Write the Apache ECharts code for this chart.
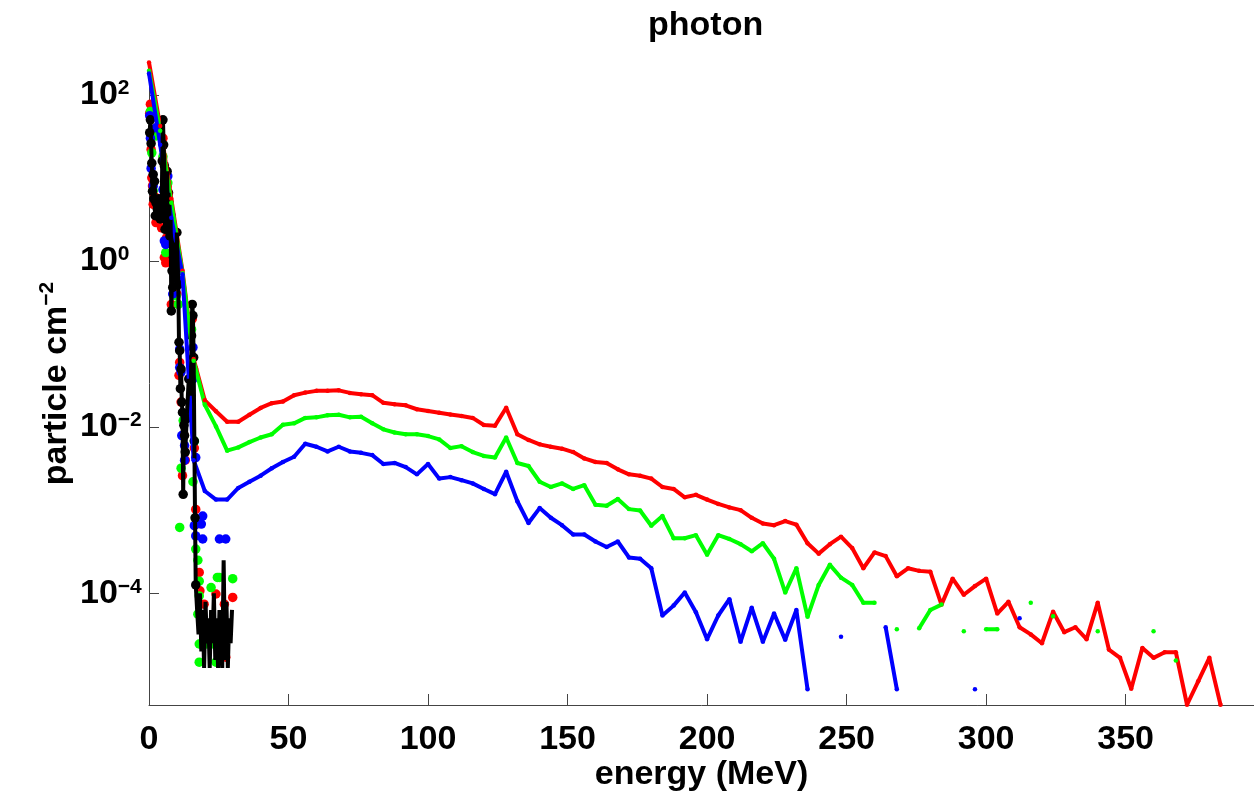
<!DOCTYPE html>
<html><head><meta charset="utf-8">
<script src="https://cdn.jsdelivr.net/npm/echarts@6/dist/echarts.min.js"></script>
<style>html,body{margin:0;padding:0;background:#fff}#c{width:1254px;height:797px}</style>
</head><body><div id="c"></div>
<script>
// ---- coarse spectra (4 MeV bins) ----
const energyBins = [0,4,8,12,16,20,24,28,32,36,40,44,48,52,56,60,64,68,72,76,80,84,88,92,96,100,104,108,112,116,120,124,128,132,136,140,144,148,152,156,160,164,168,172,176,180,184,188,192,196,200,204,208,212,216,220,224,228,232,236,240,244,248,252,256,260,264,268,272,276,280,284,288,292,296,300,304,308,312,316,320,324,328,332,336,340,344,348,352,356,360,364,368,372,376,380,384];

const redFlux = [245,42,5.6,0.76,0.066,0.021,0.0155,0.0116,0.0116,0.0141,0.017,0.0194,0.0203,0.0242,0.026,0.0273,0.0273,0.0277,0.0258,0.0248,0.0242,0.0196,0.0188,0.0183,0.0164,0.0156,0.0149,0.0142,0.0136,0.0129,0.0106,0.0104,0.0171,0.0082,0.0070,0.0062,0.0058,0.0055,0.0050,0.0042,0.0038,0.0037,0.0031,0.0027,0.0026,0.0024,0.0019,0.0018,0.00143,0.00153,0.00134,0.00119,0.00108,0.00100,0.00081,0.00069,0.00066,0.00074,0.00067,0.00040,0.00030,0.00039,0.00048,0.00035,0.00020,0.00031,0.00028,0.00016,0.00020,0.000186,0.000182,7.3e-5,1.5e-4,9.6e-5,1.22e-4,1.5e-4,5.7e-5,7.9e-5,3.9e-5,3.2e-5,2.5e-5,6.0e-5,3.4e-5,3.9e-5,2.8e-5,7.7e-5,2.1e-5,1.67e-5,7.1e-6,2.2e-5,1.67e-5,1.95e-5,1.95e-5,4.55e-6,8.7e-6,1.67e-5,4.55e-6];

const greenFlux = [195,37,5.0,0.71,0.063,0.0186,0.0102,0.0052,0.0057,0.0066,0.0075,0.0082,0.0107,0.0111,0.0129,0.0131,0.0139,0.0141,0.0131,0.0133,0.0111,0.0094,0.0086,0.0082,0.0082,0.0078,0.0071,0.0056,0.0059,0.0050,0.0045,0.0043,0.0075,0.0037,0.0034,0.0022,0.0019,0.0021,0.0018,0.0020,0.00116,0.00113,0.00136,0.00103,0.00099,0.00065,0.00085,0.00046,0.00046,0.00050,0.00029,0.00050,0.00045,0.00039,0.00032,0.00040,0.00026,0.000102,0.00020,5.2e-5,1.26e-4,2.2e-4,1.54e-4,1.26e-4,7.7e-5,7.7e-5,null,3.7e-5,null,3.8e-5,6.3e-5,7.3e-5,null,3.5e-5,null,3.7e-5,3.7e-5,null,null,7.7e-5,null,5.3e-5,null,null,null,3.5e-5,null,null,null,null,3.5e-5,null,1.55e-5,null,null,null,null];

const blueFlux = [180,25,3.3,0.69,0.0040,0.0017,0.00134,0.00134,0.00185,0.0022,0.0026,0.0032,0.0038,0.0044,0.0063,0.0058,0.0051,0.0058,0.0051,0.0049,0.0046,0.0036,0.0037,0.0033,0.0027,0.0036,0.0024,0.0025,0.0023,0.0021,0.0018,0.00156,0.0029,0.00128,0.0007,0.00106,0.00081,0.00066,0.00051,0.00051,0.00042,0.00036,0.00042,0.00027,0.00026,0.00020,5.4e-5,7.1e-5,1.02e-4,5.9e-5,2.8e-5,5.4e-5,8.5e-5,2.6e-5,6.7e-5,2.6e-5,5.7e-5,2.75e-5,6.3e-5,7.0e-6,null,null,3.0e-5,null,null,null,3.9e-5,7.0e-6,null,null,null,null,null,null,7.0e-6,null,null,null,5.0e-5,null,null,null,null,null,null,null,null,null,null,null,null,null,null,null,null,null,null];

// ---- fine low-energy spectra: [energy (MeV), flux] ----
const blackFine = [[0.25,35],[0.5,50],[0.75,26],[1.0,15],[1.25,6.9],[1.5,11],[1.75,5.6],[2.0,9.1],[2.25,3.5],[2.5,5.0],[3.0,4.2],[3.5,5.6],[4.0,3.2],[4.5,3.6],[4.75,16],[5.0,50],[5.25,25],[5.5,14],[5.75,2.4],[6.0,7.9],[6.25,4.0],[6.5,12],[6.75,2.8],[7.0,6.6],[7.25,5.0],[7.5,2.0],[7.75,3.3],[8.0,0.25],[8.25,0.76],[8.5,0.48],[8.75,1.1],[9.0,1.66],[9.25,0.63],[9.5,1.38],[9.75,0.8],[10.0,2.2],[10.25,1.0],[10.5,0.52],[10.75,0.105],[11.0,0.083],[11.25,0.029],[11.5,0.05],[11.75,0.02],[12.0,0.015],[12.25,0.00155],[12.5,0.0105],[12.75,0.0079],[13.0,0.005],[13.5,0.0126],[14.25,0.038],[15.0,0.024],[15.25,0.126],[15.5,0.30],[15.75,0.22],[16.0,0.069],[16.25,0.0068],[16.5,0.00081],[16.75,1.26e-4],[17.25,6.2e-5],[17.75,3.2e-5],[18.25,1.0e-4],[18.75,2.0e-5],[19.25,6.3e-5],[19.75,1.26e-5],[20.25,7.9e-5],[20.75,2.5e-5],[21.25,5.0e-5],[21.75,1.26e-5],[22.25,6.3e-5],[22.75,2.5e-5],[23.25,1.0e-4],[23.75,1.58e-5],[24.25,5.0e-5],[24.75,1.26e-5],[25.25,6.3e-5],[25.75,3.2e-5],[26.25,1.26e-5],[26.75,2.5e-4],[27.25,1.58e-5],[27.75,7.9e-5],[28.25,1.26e-5],[28.75,5.0e-5],[29.25,2.5e-5],[29.75,6.3e-5]];

const redFine = [[0.25,60],[0.5,77],[0.75,22],[1.0,10],[1.25,8],[1.5,4.8],[2.0,6],[2.5,2.9],[3.0,3.5],[4.5,2.5],[5.0,30],[5.5,1.1],[6.0,0.95],[6.25,1.9],[6.5,8],[7.0,4.5],[8.0,0.3],[9.0,1.2],[10.0,0.4],[10.75,0.042],[11.0,0.06],[11.5,0.02],[12.0,0.0026],[12.5,0.008],[13.0,0.004],[15.5,0.2],[16.0,0.05],[16.25,0.0056],[16.75,0.00102],[17.0,0.00068],[18.0,1.78e-4],[18.25,1.07e-4],[19.75,7.4e-5],[20.5,3.5e-5],[21.0,3.5e-5],[21.5,3.5e-5],[22.0,3.5e-5],[22.5,3.5e-5],[23.0,3.5e-5],[24.0,9.8e-5],[25.0,3.5e-5],[27.0,7.4e-5],[26.75,1.78e-5],[27.5,1.7e-5],[30.0,8.9e-5]];

const greenFine = [[0.5,63],[1.0,20],[1.5,7],[2.5,32],[3.5,4.5],[5.0,18],[5.75,5],[6.75,8.7],[6.0,1.26],[7.5,2.6],[8.5,2.3],[9.75,0.38],[10.5,0.3],[11.0,6.2e-4],[11.5,0.0032],[12.25,0.012],[15.25,0.15],[15.75,0.0022],[16.25,0.0068],[16.75,3.4e-4],[17.5,2.5e-4],[18.0,1.4e-4],[18.0,9.3e-5],[19.25,5.1e-5],[18.0,2.45e-5],[18.5,2.45e-5],[19.5,2.45e-5],[20.5,2.45e-5],[21.5,2.45e-5],[22.5,2.45e-5],[23.5,2.45e-5],[24.5,2.45e-5],[25.5,2.45e-5],[18.0,1.48e-5],[24.0,1.48e-5],[22.25,1.17e-4],[24.5,1.55e-4],[25.25,1.55e-4],[30.0,1.5e-4],[27.0,4.0e-5],[17.5,5.6e-5]];

const blueFine = [[0.25,56],[0.5,30],[2.5,40],[0.75,13],[1.5,8],[3.0,5],[6.75,10.5],[5.0,7.2],[8.0,3.5],[5.5,1.74],[6.0,1.58],[7.25,3],[9.75,0.76],[8.5,0.40],[10.25,0.6],[11.0,0.087],[11.0,0.052],[11.5,0.046],[15.75,0.091],[15.75,0.038],[15.0,0.0145],[11.75,0.0079],[12.75,0.006],[12.75,0.004],[16.75,0.0043],[16.25,6.5e-4],[16.75,4.9e-4],[18.75,6.8e-4],[19.25,8.5e-4],[19.25,4.5e-4],[25.25,4.5e-4],[27.5,4.5e-4]];

const xTicks = [0,50,100,150,200,250,300,350];
const yTicks = [1e-4,1e-2,1,100];

const pairs = (xs, ys) => xs.map((x, i) => [x, ys[i]]);
const FONT = '"Liberation Sans", Arial, Helvetica, sans-serif';

const coarse = (data, color) => ({
  type: 'line', data: data, connectNulls: false, clip: true,
  symbol: 'circle', symbolSize: 4.5, showSymbol: true,
  itemStyle: { color: color, opacity: 1 }, lineStyle: { color: color, width: 4 },
  emphasis: { disabled: true }, silent: true
});
const dots = (data, color) => ({
  type: 'scatter', data: data, symbol: 'circle', symbolSize: 9.5, clip: true,
  itemStyle: { color: color, opacity: 1 }, emphasis: { disabled: true }, silent: true
});

const chart = echarts.init(document.getElementById('c'), null, { renderer: 'canvas' });
chart.setOption({
  animation: false,
  backgroundColor: '#ffffff',
  textStyle: { fontFamily: FONT },
  title: {
    text: 'photon', left: 643, top: 4,
    textStyle: { fontFamily: FONT, fontSize: 34, fontWeight: 'bold', color: '#000' }
  },
  grid: { left: 149, right: -4, top: 62, bottom: 89, containLabel: false },
  xAxis: {
    type: 'value', min: 0, max: 396,
    name: 'energy (MeV)', nameLocation: 'middle', nameGap: 53, nameMoveOverlap: false,
    nameTextStyle: { fontFamily: FONT, fontSize: 34, fontWeight: 'bold', color: '#000' },
    axisLine: { show: true, onZero: false, lineStyle: { color: '#444', width: 1 } },
    axisTick: { show: true, inside: true, length: 11, customValues: xTicks, lineStyle: { color: '#444' } },
    axisLabel: { customValues: xTicks, margin: 18, fontFamily: FONT, fontSize: 34, fontWeight: 'bold', color: '#000' },
    splitLine: { show: false }
  },
  yAxis: {
    type: 'log', logBase: 10, min: 4.52e-6, max: 248,
    name: '{a|particle cm}{s|\u22122}', nameLocation: 'middle', nameGap: 72, nameRotate: 90,
    nameMoveOverlap: false,
    nameTextStyle: {
      color: '#000',
      rich: {
        a: { fontFamily: FONT, fontSize: 34, fontWeight: 'bold', color: '#000', lineHeight: 40 },
        s: { fontFamily: FONT, fontSize: 21, fontWeight: 'bold', color: '#000', verticalAlign: 'top', lineHeight: 8 }
      }
    },
    axisLine: { show: true, onZero: false, lineStyle: { color: '#444', width: 1 } },
    axisTick: { show: true, inside: true, length: 10, customValues: yTicks, lineStyle: { color: '#444' } },
    minorTick: { show: false },
    splitLine: { show: false },
    axisLabel: {
      customValues: yTicks, margin: 69, align: 'left',
      formatter: function (v) {
        const e = Math.round(Math.log10(v));
        return '{b|10}{s|' + (e < 0 ? '\u2212' + (-e) : String(e)) + '}';
      },
      rich: {
        b: { fontFamily: FONT, fontSize: 34, fontWeight: 'bold', color: '#000', lineHeight: 34 },
        s: { fontFamily: FONT, fontSize: 21, fontWeight: 'bold', color: '#000', verticalAlign: 'top', lineHeight: 12 }
      }
    }
  },
  series: [
    coarse(pairs(energyBins, redFlux), '#ff0000'),
    coarse(pairs(energyBins, greenFlux), '#00ff00'),
    coarse(pairs(energyBins, blueFlux), '#0000ff'),
    {
      type: 'line', data: blackFine, showSymbol: false, clip: true,
      lineStyle: { color: '#000', width: 4 }, itemStyle: { color: '#000' },
      emphasis: { disabled: true }, silent: true
    },
    dots(redFine, '#ff0000'),
    dots(greenFine, '#00ff00'),
    dots(blueFine, '#0000ff'),
    {
      type: 'scatter', data: blackFine, symbol: 'circle', clip: true,
      symbolSize: function (v) { return v[0] < 17 ? 9.5 : 0; },
      itemStyle: { color: '#000', opacity: 1 }, emphasis: { disabled: true }, silent: true
    }
  ]
});
</script>
</body></html>
